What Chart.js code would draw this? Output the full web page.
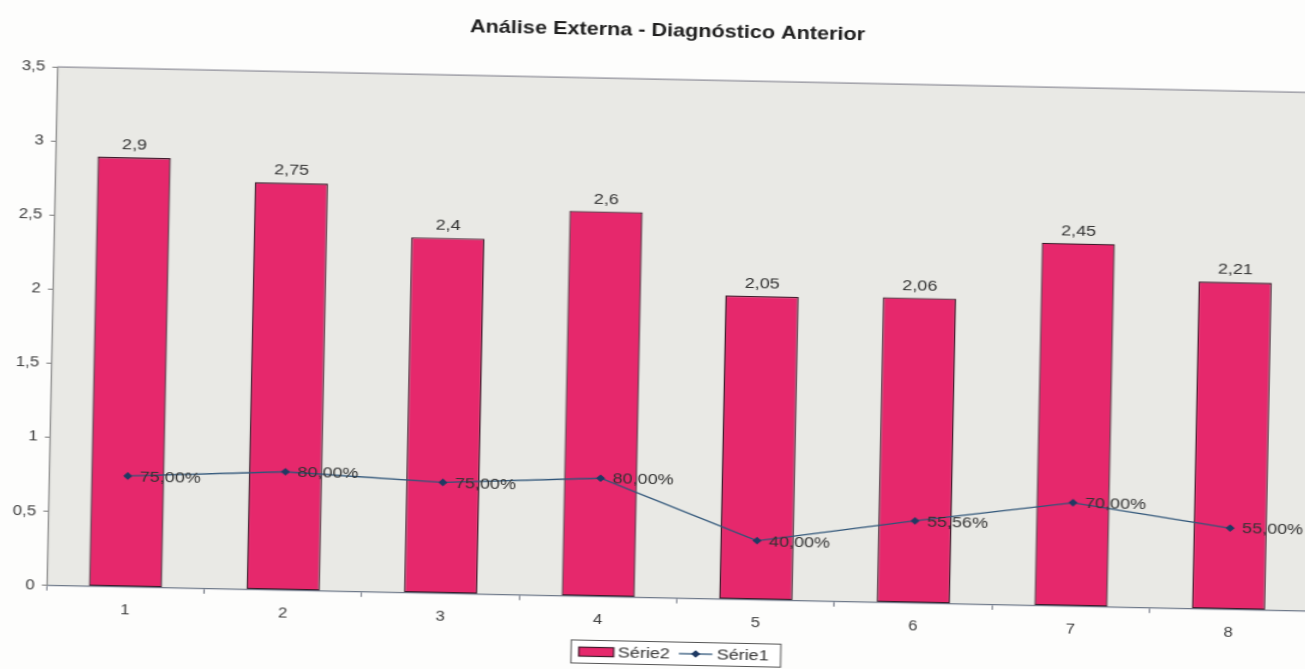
<!DOCTYPE html>
<html>
<head>
<meta charset="utf-8">
<script src="https://cdn.jsdelivr.net/npm/chart.js@4.4.1/dist/chart.umd.min.js"></script>
<style>
  html, body { margin: 0; padding: 0; background: #fdfdfc; overflow: hidden; width: 1305px; height: 669px; }
  /* the printed chart sits slightly tilted and widened */
  #tilt { position: absolute; left: 0; top: 0; width: 1332px; height: 680px;
          transform-origin: 652px 334px; transform: rotate(1.17deg); }
  #wide { position: absolute; left: 0; top: 0; width: 1110px; height: 680px;
          transform-origin: 0 0; transform: scaleX(1.2); }
  canvas { display: block; }
</style>
</head>
<body>
<div id="tilt"><div id="wide"><canvas id="chart" width="1110" height="680"></canvas></div></div>
<script>
// ---- data ----
const categories = ['1', '2', '3', '4', '5', '6', '7', '8'];
const serie2 = [2.9, 2.75, 2.4, 2.6, 2.05, 2.06, 2.45, 2.21];
const serie1 = [0.75, 0.80, 0.75, 0.80, 0.40, 0.5556, 0.70, 0.55];
const yTickLabels = ['0', '0,5', '1', '1,5', '2', '2,5', '3', '3,5'];
const seriesNames = ['Série2', 'Série1'];
const titleText = 'Análise Externa - Diagnóstico Anterior';

// ---- styling ----
const FONT = '"Liberation Sans", Arial, Helvetica, sans-serif';
const BAR_FILL = '#e6286c';
const BAR_EDGE = '#3d1a2a';
const LINE_COLOR = '#2f5579';
const MARK_COLOR = '#1f3a63';
const TEXT_COLOR = '#333333';

const fmtBar = v => String(v).replace('.', ',');
const fmtPct = v => (v * 100).toFixed(2).replace('.', ',') + '%';

// plot background (runs on past the right edge) and top frame line
const plotFrame = {
  id: 'plotFrame',
  beforeDraw(chart) {
    const { ctx, chartArea: a } = chart;
    ctx.save();
    ctx.fillStyle = '#e9e9e5';
    ctx.fillRect(a.left, a.top, chart.width - a.left, a.bottom - a.top);
    ctx.strokeStyle = '#8e8e98';
    ctx.lineWidth = 1.2;
    ctx.beginPath();
    ctx.moveTo(a.left, a.top);
    ctx.lineTo(chart.width, a.top);
    ctx.stroke();
    ctx.strokeStyle = '#6f7a8a';
    ctx.lineWidth = 1.3;
    ctx.beginPath();
    ctx.moveTo(a.right, a.bottom);
    ctx.lineTo(chart.width, a.bottom);
    ctx.stroke();
    ctx.restore();
  }
};

// value labels above bars and beside line points
const valueLabels = {
  id: 'valueLabels',
  afterDatasetsDraw(chart) {
    const { ctx } = chart;
    ctx.save();
    ctx.font = '15px ' + FONT;
    ctx.fillStyle = TEXT_COLOR;
    chart.data.datasets.forEach((ds, di) => {
      const meta = chart.getDatasetMeta(di);
      meta.data.forEach((el, i) => {
        const v = ds.data[i];
        if (ds.type === 'bar') {
          ctx.textAlign = 'center';
          ctx.textBaseline = 'alphabetic';
          ctx.fillText(fmtBar(v), el.x, el.y - 8);
        } else {
          ctx.textAlign = 'left';
          ctx.textBaseline = 'middle';
          ctx.fillText(fmtPct(v), el.x + 10, el.y + 1);
        }
      });
    });
    ctx.restore();
  }
};

// boxed legend under the axis
const boxLegend = {
  id: 'boxLegend',
  afterDraw(chart) {
    const { ctx, chartArea: a } = chart;
    const bars = chart.data.datasets[0];
    const line = chart.data.datasets[1];
    ctx.save();
    ctx.font = '15px ' + FONT;
    const t1 = ctx.measureText(bars.label).width;
    const t2 = ctx.measureText(line.label).width;
    const padL = 6.5, swW = 29, swH = 9, gapT = 3.5, gapItem = 7.5, lnW = 28, padR = 10;
    const w = padL + swW + gapT + t1 + gapItem + lnW + gapT + t2 + padR;
    const h = 23;
    const cx = (a.left + a.right) / 2;
    const cy = 653;
    const left = cx - w / 2;
    const top = cy - h / 2;
    ctx.fillStyle = '#ffffff';
    ctx.fillRect(left, top, w, h);
    ctx.strokeStyle = '#555555';
    ctx.lineWidth = 1;
    ctx.strokeRect(left, top, w, h);
    let x = left + padL;
    ctx.fillStyle = bars.backgroundColor;
    ctx.fillRect(x, cy - swH / 2, swW, swH);
    ctx.strokeStyle = bars.borderColor;
    ctx.lineWidth = 1.2;
    ctx.strokeRect(x, cy - swH / 2, swW, swH);
    x += swW + gapT;
    ctx.fillStyle = TEXT_COLOR;
    ctx.textAlign = 'left';
    ctx.textBaseline = 'middle';
    ctx.fillText(bars.label, x, cy + 1);
    x += t1 + gapItem;
    ctx.strokeStyle = line.borderColor;
    ctx.lineWidth = 1.3;
    ctx.beginPath();
    ctx.moveTo(x, cy);
    ctx.lineTo(x + lnW, cy);
    ctx.stroke();
    const mx = x + lnW / 2, r = 3.8;
    ctx.fillStyle = line.pointBackgroundColor;
    ctx.beginPath();
    ctx.moveTo(mx, cy - r);
    ctx.lineTo(mx + r, cy);
    ctx.lineTo(mx, cy + r);
    ctx.lineTo(mx - r, cy);
    ctx.closePath();
    ctx.fill();
    x += lnW + gapT;
    ctx.fillStyle = TEXT_COLOR;
    ctx.fillText(line.label, x, cy + 1);
    ctx.restore();
  }
};

new Chart(document.getElementById('chart'), {
  data: {
    labels: categories,
    datasets: [
      {
        type: 'bar',
        label: seriesNames[0],
        data: serie2,
        backgroundColor: BAR_FILL,
        borderColor: BAR_EDGE,
        borderWidth: 1.3,
        borderSkipped: false,
        categoryPercentage: 1,
        barPercentage: 0.465,
        order: 1
      },
      {
        type: 'line',
        label: seriesNames[1],
        data: serie1,
        borderColor: LINE_COLOR,
        borderWidth: 1.3,
        pointStyle: 'rectRot',
        pointRadius: 3.8,
        pointBackgroundColor: MARK_COLOR,
        pointBorderColor: MARK_COLOR,
        pointBorderWidth: 0,
        tension: 0,
        fill: false,
        order: 0
      }
    ]
  },
  options: {
    responsive: false,
    animation: false,
    events: [],
    layout: { padding: { left: 8.3, right: 16, top: 0, bottom: 0 } },
    plugins: {
      legend: { display: false },
      tooltip: { enabled: false },
      title: {
        display: true,
        text: titleText,
        color: '#1e1e1e',
        font: { family: FONT, size: 18, weight: 'bold' },
        padding: { top: 20, bottom: 37.6 }
      }
    },
    scales: {
      x: {
        offset: true,
        grid: { offset: true, drawOnChartArea: false, tickLength: 5, color: '#6f7480', lineWidth: 1 },
        border: { color: '#6f7a8a', width: 1.3 },
        ticks: { color: '#3d3d3d', font: { family: FONT, size: 14 }, padding: 10, maxRotation: 0 },
        afterFit(scale) { scale.height = 82.2; }
      },
      y: {
        min: 0,
        max: 3.5,
        ticks: {
          stepSize: 0.5,
          callback: (v, i) => yTickLabels[i],
          color: '#3d3d3d',
          font: { family: FONT, size: 14 },
          padding: 6
        },
        grid: { drawOnChartArea: false, tickLength: 4, color: '#777777' },
        border: { color: '#8a8a8a', width: 1.2 },
        afterFit(scale) { scale.width = 35; }
      }
    }
  },
  plugins: [plotFrame, valueLabels, boxLegend]
});
</script>
</body>
</html>
